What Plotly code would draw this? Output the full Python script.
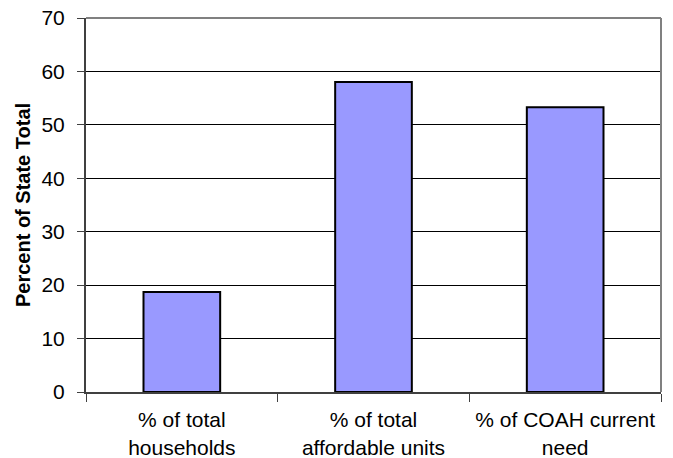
import plotly.graph_objects as go

# Share of statewide totals by measure
categories = ["% of total<br>households", "% of total<br>affordable units", "% of COAH current<br>need"]
percent_of_state = [18.7, 58.0, 53.3]
y_ticks = [0, 10, 20, 30, 40, 50, 60, 70]

font_family = "Liberation Sans, Arial, sans-serif"

fig = go.Figure(
    go.Bar(
        x=categories,
        y=percent_of_state,
        width=0.4,
        marker=dict(color="#9999FF", line=dict(color="#000000", width=2)),
    )
)

fig.update_layout(
    width=673,
    height=458,
    margin=dict(l=86, r=12, t=18, b=66),
    paper_bgcolor="white",
    plot_bgcolor="white",
    showlegend=False,
    font=dict(family=font_family, color="#000000", size=21),
    shapes=[
        # gray frame on the top and right sides of the plot area
        dict(type="line", xref="paper", yref="paper", x0=0, x1=1, y0=1, y1=1,
             line=dict(color="#808080", width=2)),
        dict(type="line", xref="paper", yref="paper", x0=1, x1=1, y0=0, y1=1,
             line=dict(color="#808080", width=2)),
    ],
)

fig.update_yaxes(
    range=[0, 70],
    tickvals=y_ticks,
    ticktext=[str(v) for v in y_ticks],
    showgrid=True,
    gridcolor="#000000",
    gridwidth=1,
    showline=True,
    linecolor="#404040",
    linewidth=2,
    ticks="outside",
    ticklen=7,
    tickcolor="#404040",
    ticklabelstandoff=8,
    zeroline=False,
    automargin=False,
    title=dict(text="<b>Percent of State Total</b>", font=dict(size=20), standoff=5),
)

fig.update_xaxes(
    type="category",
    tickson="boundaries",
    showline=True,
    linecolor="#404040",
    linewidth=2,
    ticks="outside",
    ticklen=8,
    tickcolor="#404040",
    ticklabelstandoff=8,
    automargin=False,
    showgrid=False,
)

fig.write_html("out.html")
